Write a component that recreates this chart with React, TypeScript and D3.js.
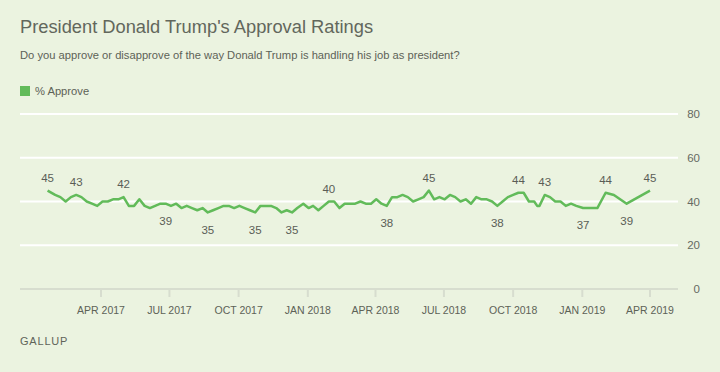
import React from "react";
import * as d3 from "d3";

// Gallup survey start dates and % approve
const surveyDates = [
  "2017-01-20", "2017-01-30", "2017-02-06", "2017-02-13", "2017-02-20", "2017-02-27",
  "2017-03-06", "2017-03-13", "2017-03-20", "2017-03-27", "2017-04-03", "2017-04-10",
  "2017-04-17", "2017-04-24", "2017-05-01", "2017-05-08", "2017-05-15", "2017-05-22",
  "2017-05-29", "2017-06-05", "2017-06-12", "2017-06-19", "2017-06-26", "2017-07-03",
  "2017-07-10", "2017-07-17", "2017-07-24", "2017-07-31", "2017-08-07", "2017-08-14",
  "2017-08-21", "2017-08-28", "2017-09-04", "2017-09-11", "2017-09-18", "2017-09-25",
  "2017-10-02", "2017-10-09", "2017-10-16", "2017-10-23", "2017-10-30", "2017-11-06",
  "2017-11-13", "2017-11-20", "2017-11-27", "2017-12-04", "2017-12-11", "2017-12-18",
  "2017-12-26", "2018-01-02", "2018-01-08", "2018-01-15", "2018-01-22", "2018-01-29",
  "2018-02-05", "2018-02-12", "2018-02-19", "2018-02-26", "2018-03-05", "2018-03-12",
  "2018-03-19", "2018-03-26", "2018-04-02", "2018-04-09", "2018-04-16", "2018-04-23",
  "2018-04-30", "2018-05-07", "2018-05-14", "2018-05-21", "2018-05-28", "2018-06-04",
  "2018-06-11", "2018-06-18", "2018-06-25", "2018-07-02", "2018-07-09", "2018-07-16",
  "2018-07-23", "2018-07-30", "2018-08-06", "2018-08-13", "2018-08-20", "2018-08-27",
  "2018-09-03", "2018-09-10", "2018-09-17", "2018-09-24", "2018-10-01", "2018-10-08",
  "2018-10-15", "2018-10-22", "2018-10-29", "2018-11-02", "2018-11-05", "2018-11-12",
  "2018-11-19", "2018-11-26", "2018-12-03", "2018-12-10", "2018-12-17", "2018-12-24",
  "2019-01-02", "2019-01-21", "2019-02-01", "2019-02-12", "2019-03-01", "2019-04-01",
];

const approve = [
  45, 43, 42, 40, 42, 43,
  42, 40, 39, 38, 40, 40,
  41, 41, 42, 38, 38, 41,
  38, 37, 38, 39, 39, 38,
  39, 37, 38, 37, 36, 37,
  35, 36, 37, 38, 38, 37,
  38, 37, 36, 35, 38, 38,
  38, 37, 35, 36, 35, 37,
  39, 37, 38, 36, 38, 40,
  40, 37, 39, 39, 39, 40,
  39, 39, 41, 39, 38, 42,
  42, 43, 42, 40, 41, 42,
  45, 41, 42, 41, 43, 42,
  40, 41, 39, 42, 41, 41,
  40, 38, 40, 42, 43, 44,
  44, 40, 40, 38, 38, 43,
  42, 40, 40, 38, 39, 38,
  37, 37, 44, 43, 39, 45,
];

// points that carry a value label
const labeledDates = [
  "2017-01-20", "2017-02-27", "2017-05-01", "2017-06-26", "2017-08-21", "2017-10-23",
  "2017-12-11", "2018-01-29", "2018-04-16", "2018-06-11", "2018-09-10", "2018-10-08",
  "2018-11-12", "2019-01-02", "2019-02-01", "2019-03-01", "2019-04-01",
];

const yTicks = [0, 20, 40, 60, 80];

const W = 720, H = 372;
const plotLeft = 20, plotRight = 678;
const font = "'Liberation Sans', Arial, sans-serif";
const textColor = "#5d6257";
const green = "#62bb5a";

const parse = d3.timeParse("%Y-%m-%d");

export default function App() {
  const data = surveyDates.map((d, i) => ({ date: parse(d) as Date, value: approve[i] }));

  const x = d3.scaleTime()
    .domain([parse("2017-04-01") as Date, parse("2019-04-01") as Date])
    .range([101, 650]);
  const y = d3.scaleLinear().domain([0, 80]).range([289, 114]);

  const line = d3.line<{ date: Date; value: number }>()
    .x(d => x(d.date))
    .y(d => y(d.value));

  const xTicks = x.ticks(d3.timeMonth.every(3) as d3.TimeInterval);
  const fmt = d3.timeFormat("%b %Y");

  const labels = labeledDates.map(s => data[surveyDates.indexOf(s)]);

  return (
    <div style={{ position: "absolute", left: 0, top: 0 }}>
      <svg width={W} height={H} style={{ display: "block", fontFamily: font }}>
        <rect width={W} height={H} fill="#ebf3e0" />

        <text x={20} y={33} fontSize={18.3} fill="#62675c">
          President Donald Trump's Approval Ratings
        </text>
        <text x={20} y={59} fontSize={11.2} fill={textColor}>
          Do you approve or disapprove of the way Donald Trump is handling his job as president?
        </text>

        <rect x={20} y={86} width={10} height={10} fill={green} />
        <text x={35} y={94.5} fontSize={11.2} fill={textColor}>% Approve</text>

        {yTicks.map(t => (
          <g key={t}>
            <line
              x1={plotLeft} x2={plotRight} y1={y(t)} y2={y(t)}
              stroke={t === 0 ? "#d7ddcf" : "#ffffff"} strokeWidth={2}
            />
            <text x={700} y={y(t)} dy="0.36em" textAnchor="end" fontSize={11.5} fill="#666a62">
              {t}
            </text>
          </g>
        ))}

        {xTicks.map(t => (
          <g key={t.getTime()} transform={`translate(${x(t)},0)`}>
            <line y1={y(0)} y2={y(0) + 8} stroke="#d7ddcf" strokeWidth={2} />
            <text y={314} textAnchor="middle" fontSize={10.5} fill={textColor}>
              {fmt(t).toUpperCase()}
            </text>
          </g>
        ))}

        <path d={line(data) ?? ""} fill="none" stroke={green} strokeWidth={2.5} strokeLinejoin="round" />

        {labels.map(d => (
          <text
            key={d.date.getTime()}
            x={x(d.date)}
            y={d.value >= 40 ? y(d.value) - 13 : y(d.value) + 17}
            dy="0.36em"
            textAnchor="middle"
            fontSize={11.5}
            fill="#5a5d56"
          >
            {d.value}
          </text>
        ))}

        <text x={20} y={345} fontSize={11} letterSpacing={0.8} fill="#5f6459">GALLUP</text>
      </svg>
    </div>
  );
}
